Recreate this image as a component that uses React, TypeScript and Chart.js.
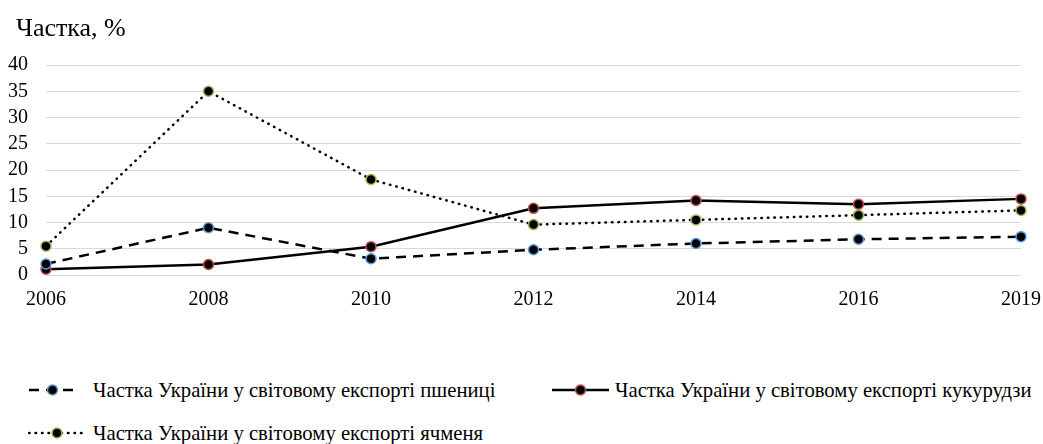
import React, { useEffect, useRef } from "react";
import { Chart, registerables } from "chart.js";

Chart.register(...registerables);

const years = ["2006", "2008", "2010", "2012", "2014", "2016", "2019"];
const wheat = [2.1, 9.0, 3.1, 4.8, 6.0, 6.8, 7.3];
const corn = [1.1, 2.0, 5.4, 12.7, 14.2, 13.5, 14.5];
const barley = [5.5, 35.0, 18.2, 9.6, 10.5, 11.4, 12.3];
const seriesLabels = [
  "Частка України у світовому експорті пшениці",
  "Частка України у світовому експорті кукурудзи",
  "Частка України у світовому експорті ячменя",
];
const seriesColors = ["#5B9BD5", "#C0504D", "#9BBB59"];
const seriesDash: number[][] = [[10, 7], [], [0.5, 6]];
const yTitle = "Частка, %";

const FONT = "'Liberation Serif', 'Times New Roman', serif";

function LegendSample({ color, dash, width }: { color: string; dash: number[]; width: number }) {
  const round = dash.length === 2 && dash[0] < 1;
  return (
    <svg width={width} height={16} style={{ display: "block", flex: "none" }}>
      <line
        x1={1}
        y1={8}
        x2={width - 1}
        y2={8}
        stroke="#000"
        strokeWidth={2.5}
        strokeLinecap={round ? "round" : "butt"}
        strokeDasharray={dash.length ? dash.join(" ") : undefined}
      />
      <circle cx={width / 2} cy={8} r={5} fill="#000" stroke={color} strokeWidth={1.5} />
    </svg>
  );
}

export default function App() {
  const ref = useRef<HTMLCanvasElement | null>(null);

  useEffect(() => {
    document.documentElement.style.overflow = "hidden";
    document.body.style.overflow = "hidden";
    document.body.style.margin = "0";
    const ctx = ref.current!.getContext("2d")!;
    const data = [wheat, corn, barley];
    const chart = new Chart(ctx, {
      type: "line",
      data: {
        labels: years,
        datasets: data.map((d, i) => ({
          label: seriesLabels[i],
          data: d,
          borderColor: "#000",
          borderWidth: 2.5,
          borderDash: seriesDash[i],
          borderCapStyle: i === 2 ? "round" : "butt",
          tension: 0,
          pointRadius: 5,
          pointBorderWidth: 1.5,
          pointBackgroundColor: "#000",
          pointBorderColor: seriesColors[i],
          fill: false,
        })),
      },
      options: {
        animation: false,
        responsive: false,
        maintainAspectRatio: false,
        layout: { padding: { left: 0, bottom: 15, right: 22, top: 65 } },
        plugins: {
          legend: { display: false },
          tooltip: { enabled: false },
          title: { display: false },
        },
        scales: {
          x: {
            offset: false,
            grid: { display: false, drawTicks: false },
            border: { display: false },
            ticks: {
              color: "#000",
              padding: 13,
              maxRotation: 0,
              autoSkip: false,
              font: { family: FONT, size: 20 },
            },
            afterFit: (s: any) => {
              s.paddingRight = 0;
              s.paddingLeft = 0;
            },
          },
          y: {
            min: 0,
            max: 40,
            grid: { color: "#d9d9d9", lineWidth: 1, drawTicks: false },
            border: { display: false },
            ticks: {
              stepSize: 5,
              autoSkip: false,
              color: "#000",
              padding: 18,
              font: { family: FONT, size: 20 },
            },
            afterFit: (s: any) => {
              s.width = 46;
              s.paddingTop = 0;
              s.paddingBottom = 0;
            },
          },
        },
      },
    });
    return () => chart.destroy();
  }, []);

  const legendText: React.CSSProperties = {
    fontFamily: FONT,
    fontSize: 20.7,
    color: "#000",
    whiteSpace: "nowrap",
    lineHeight: "22px",
  };

  return (
    <div style={{ width: 1043, height: 444, position: "relative", overflow: "hidden" }}>
      <canvas
        ref={ref}
        width={1043}
        height={340}
        style={{ position: "absolute", left: 0, top: 0, width: 1043, height: 340 }}
      />
      <div
        style={{
          position: "absolute",
          left: 16,
          top: 14,
          fontFamily: FONT,
          fontSize: 26,
          lineHeight: "28px",
          color: "#000",
          whiteSpace: "nowrap",
        }}
      >
        {yTitle}
      </div>
      <div style={{ position: "absolute", left: 28, top: 379, display: "flex", alignItems: "center" }}>
        <LegendSample color={seriesColors[0]} dash={seriesDash[0]} width={49} />
        <span style={{ ...legendText, marginLeft: 16 }}>{seriesLabels[0]}</span>
      </div>
      <div style={{ position: "absolute", left: 551, top: 379, display: "flex", alignItems: "center" }}>
        <LegendSample color={seriesColors[1]} dash={seriesDash[1]} width={59} />
        <span style={{ ...legendText, marginLeft: 5 }}>{seriesLabels[1]}</span>
      </div>
      <div style={{ position: "absolute", left: 28, top: 422, display: "flex", alignItems: "center" }}>
        <LegendSample color={seriesColors[2]} dash={seriesDash[2]} width={58} />
        <span style={{ ...legendText, marginLeft: 7 }}>{seriesLabels[2]}</span>
      </div>
    </div>
  );
}
